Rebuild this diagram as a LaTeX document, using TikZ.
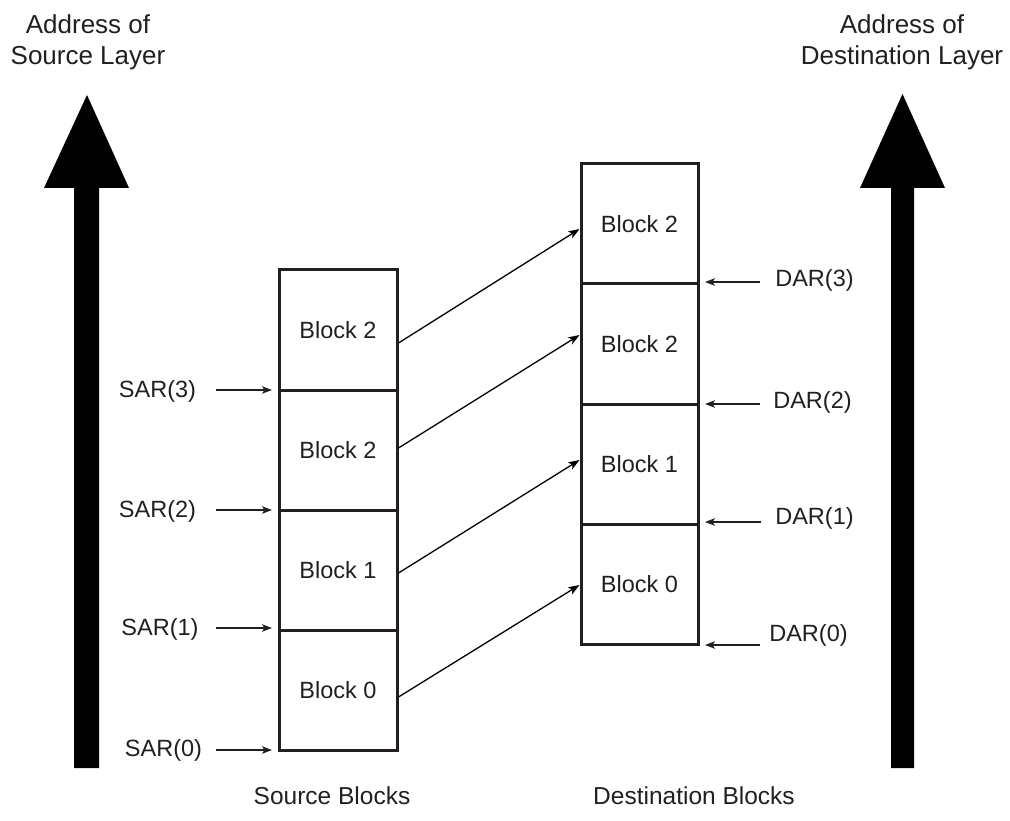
\documentclass[tikz,border=0pt]{standalone}
\usepackage{fontspec}
\setmainfont{Liberation Sans}
\usetikzlibrary{arrows.meta}
\definecolor{ink}{RGB}{35,31,32}
\newcommand\fa{\fontsize{23.5}{28}\selectfont}
\newcommand\fb{\fontsize{26}{31}\selectfont}
\newcommand\fc{\fontsize{24.5}{29}\selectfont}
\begin{document}
\begin{tikzpicture}[x=1pt,y=-1pt,
  blk/.style={draw=ink, line width=3pt, minimum width=118pt, minimum height=120pt, inner sep=0pt, font=\fa, text=ink, text height=17pt, text depth=0pt},
  dblk/.style={blk, minimum width=117pt},
  lab/.style={font=\fa, text=ink, inner sep=0pt, text height=17pt, text depth=0pt},
  blab/.style={font=\fc, text=ink, inner sep=0pt, text height=17.5pt, text depth=0pt},
  tlab/.style={font=\fb, text=ink, inner sep=0pt, align=center, anchor=north},
  conn/.style={draw=black, line width=1.3pt, -{Stealth[length=11pt,width=8pt,inset=2.5pt]}},
  ptr/.style={draw=ink, line width=1.3pt, -{Stealth[length=10pt,width=7.5pt,inset=2.5pt]}, shorten >=5.5pt},
  bigarrow/.style={fill=black}
]
\useasboundingbox (0,0) rectangle (1010,821);

% big address arrows
\fill[bigarrow] (74,768) -- (74,188) -- (44,188) -- (87,95) -- (129,188) -- (99,188) -- (99,768) -- cycle;
\fill[bigarrow] (891,768) -- (891,188) -- (860,188) -- (902.5,94) -- (945,188) -- (914,188) -- (914,768) -- cycle;

\node[tlab] (srcaddr) at (88,14) {Address of\\Source Layer};
\node[tlab] (dstaddr) at (902,14) {Address of\\Destination Layer};

% source blocks
\node[blk] (s3) at (338,330) {Block 2};
\node[blk] (s2) at (338,450) {Block 2};
\node[blk] (s1) at (338,570) {Block 1};
\node[blk] (s0) at (338,690) {Block 0};

% destination blocks
\node[dblk] (d3) at (639.5,224) {Block 2};
\node[dblk] (d2) at (639.5,344) {Block 2};
\node[dblk] (d1) at (639.5,464) {Block 1};
\node[dblk] (d0) at (639.5,584) {Block 0};

% copy connectors
\draw[conn] ([yshift=-13pt]s3.east) -- ([yshift=-5pt]d3.west);
\draw[conn] ([yshift=2pt]s2.east) -- ([yshift=9pt]d2.west);
\draw[conn] ([yshift=-3pt]s1.east) -- ([yshift=4pt]d1.west);
\draw[conn] ([yshift=-7pt]s0.east) -- ([yshift=-1pt]d0.west);

% SAR pointers
\node[lab] (sar3) at (157.5,389) {SAR(3)};
\node[lab] (sar2) at (157.5,509) {SAR(2)};
\node[lab] (sar1) at (160,627) {SAR(1)};
\node[lab] (sar0) at (163.5,748) {SAR(0)};
\coordinate (sa3) at (216,390);
\coordinate (sa2) at (216,510);
\coordinate (sa1) at (216,628);
\coordinate (sa0) at (216,750);
\draw[ptr] (sa3) -- (sa3 -| s3.west);
\draw[ptr] (sa2) -- (sa2 -| s2.west);
\draw[ptr] (sa1) -- (sa1 -| s1.west);
\draw[ptr] (sa0) -- (sa0 -| s0.west);

% DAR pointers
\node[lab] (dar3) at (814.5,278) {DAR(3)};
\node[lab] (dar2) at (812.5,400) {DAR(2)};
\node[lab] (dar1) at (814.5,516) {DAR(1)};
\node[lab] (dar0) at (808.5,633) {DAR(0)};
\coordinate (da3) at (760,282);
\coordinate (da2) at (760,404);
\coordinate (da1) at (761,522);
\coordinate (da0) at (760,645);
\draw[ptr] (da3) -- (da3 -| d3.east);
\draw[ptr] (da2) -- (da2 -| d2.east);
\draw[ptr] (da1) -- (da1 -| d1.east);
\draw[ptr] (da0) -- (da0 -| d0.east);

% captions
\node[blab] (srcb) at (332,796) {Source Blocks};
\node[blab] (dstb) at (694,796) {Destination Blocks};
\end{tikzpicture}
\end{document}
